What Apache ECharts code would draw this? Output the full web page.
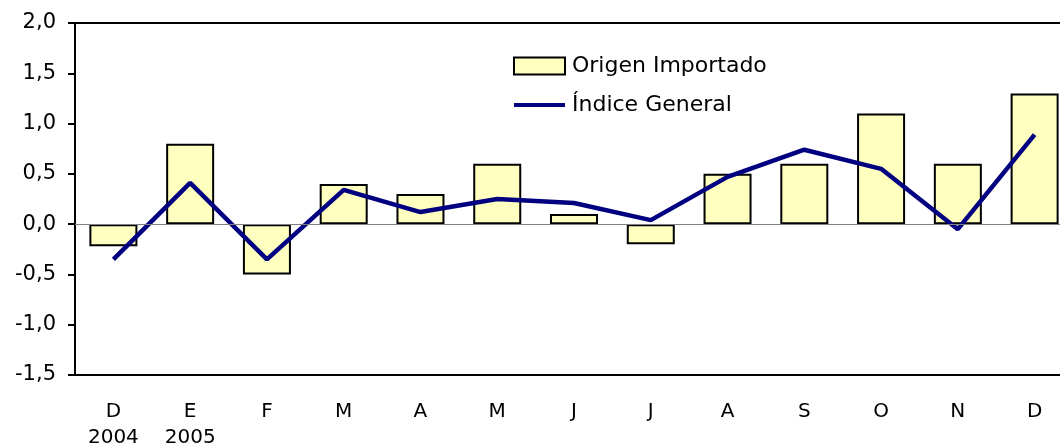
<!DOCTYPE html>
<html>
<head>
<meta charset="utf-8">
<script src="https://cdn.jsdelivr.net/npm/echarts@6/dist/echarts.min.js"></script>
<style>
  html, body { margin: 0; padding: 0; background: #fff; }
  #chart { width: 1060px; height: 446px; }
</style>
</head>
<body>
<div id="chart"></div>
<script>
var months = ['D\n2004', 'E\n2005', 'F', 'M', 'A', 'M', 'J', 'J', 'A', 'S', 'O', 'N', 'D'];
var importado = [-0.22, 0.8, -0.5, 0.4, 0.3, 0.6, 0.1, -0.2, 0.5, 0.6, 1.1, 0.6, 1.3];
var general = [-0.35, 0.41, -0.35, 0.34, 0.12, 0.25, 0.21, 0.04, 0.47, 0.74, 0.55, -0.05, 0.89];

var myChart = echarts.init(document.getElementById('chart'));
var font = '"DejaVu Sans", Verdana, sans-serif';

var option = {
    animation: false,
    backgroundColor: '#fff',
    grid: {
        left: 75,
        top: 23,
        width: 998,
        height: 352,
        outerBoundsMode: 'none',
        containLabel: false,
        show: true,
        borderColor: '#000',
        borderWidth: 2,
        backgroundColor: 'transparent'
    },
    legend: {
        orient: 'vertical',
        left: 513,
        top: 55,
        padding: 0,
        itemWidth: 51,
        itemHeight: 17,
        itemGap: 17,
        textStyle: { fontFamily: font, fontSize: 22, color: '#000', padding: [5, 0, 0, 2] },
        data: [
            { name: 'Origen Importado', icon: 'rect' },
            { name: 'Índice General', icon: 'path://M0,0 L52,0 L52,4 L0,4 Z', itemStyle: { color: '#000080', borderWidth: 0 } }
        ]
    },
    xAxis: {
        type: 'category',
        data: months,
        axisLine: { onZero: false, lineStyle: { color: '#000', width: 2 } },
        axisTick: { show: false },
        axisLabel: {
            fontFamily: font,
            fontSize: 20,
            color: '#000',
            margin: 24,
            lineHeight: 26
        }
    },
    yAxis: {
        type: 'value',
        min: -1.5,
        max: 2,
        interval: 0.5,
        axisLine: { show: true, lineStyle: { color: '#000', width: 2 } },
        axisTick: { show: true, length: 7, lineStyle: { color: '#000', width: 2 } },
        splitLine: { show: false },
        axisLabel: {
            fontFamily: font,
            fontSize: 21,
            color: '#000',
            margin: 19,
            formatter: function (v) { return v.toFixed(1).replace('.', ','); }
        }
    },
    series: [
        {
            name: 'Origen Importado',
            type: 'bar',
            data: importado,
            barWidth: 48,
            itemStyle: { color: '#FFFFC0', borderColor: '#000', borderWidth: 2 },
            markLine: {
                silent: true,
                symbol: 'none',
                label: { show: false },
                lineStyle: { color: '#808080', width: 1, type: 'solid' },
                data: [{ yAxis: 0 }]
            },
            z: 2
        },
        {
            name: 'Índice General',
            type: 'line',
            data: general,
            symbol: 'none',
            lineStyle: { color: '#000080', width: 4.5 },
            itemStyle: { color: '#000080' },
            z: 3
        }
    ]
};

myChart.setOption(option);
</script>
</body>
</html>
